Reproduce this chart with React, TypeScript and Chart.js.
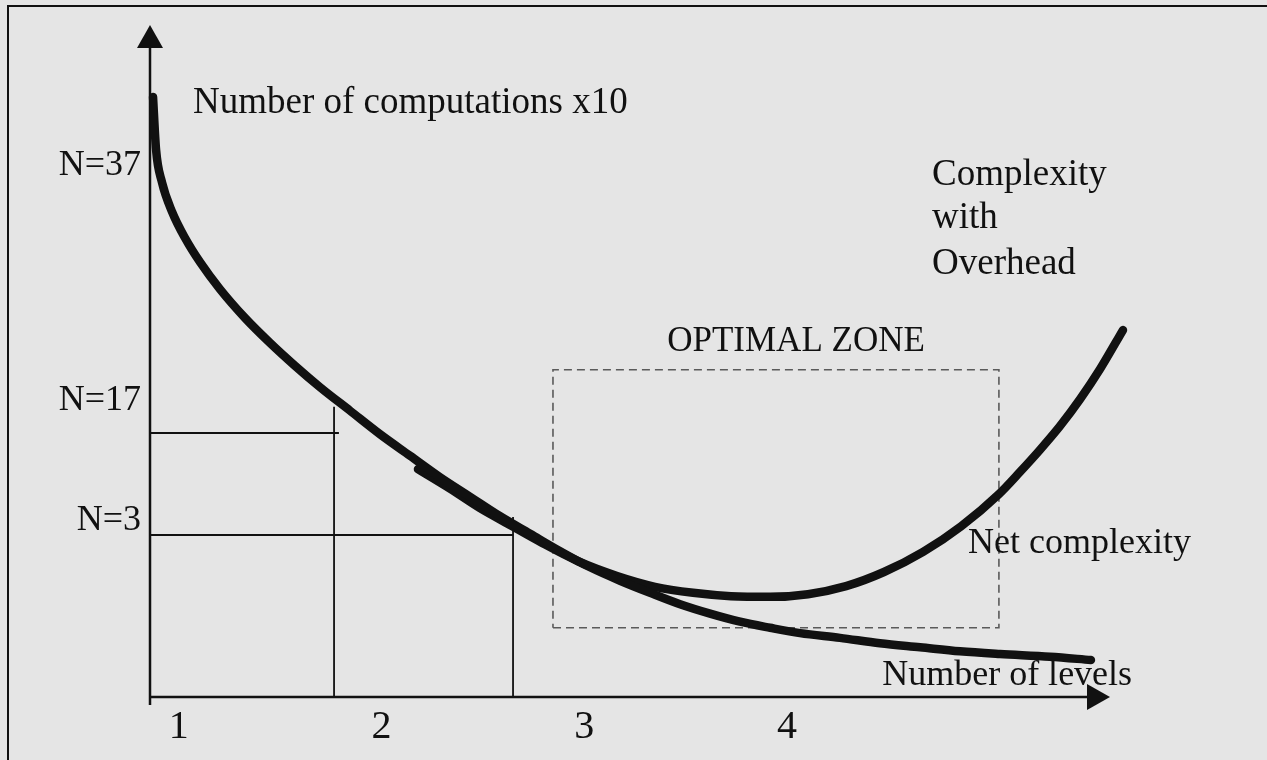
import React, { useEffect, useRef } from "react";
import { Chart, registerables } from "chart.js";

Chart.register(...registerables);

// "Number of levels" curve (lower, thick)
const LEVELS_X = [0.873, 0.888, 0.917, 0.967, 1.031, 1.105, 1.203, 1.327, 1.45, 1.573, 1.697, 1.845, 1.993, 2.141, 2.289, 2.437, 2.585, 2.733, 2.881, 3.029, 3.177, 3.325, 3.473, 3.621, 3.769, 3.917, 4.065, 4.262, 4.459, 4.657, 4.854, 5.051, 5.298, 5.5];
const LEVELS_Y = [89.3, 81.4, 76.6, 72.2, 68.3, 64.7, 60.7, 56.4, 52.7, 49.3, 46.1, 42.6, 39.1, 35.9, 32.7, 29.8, 26.9, 24.3, 21.7, 19.3, 17.3, 15.5, 13.8, 12.4, 11.2, 10.3, 9.5, 8.8, 8.0, 7.4, 6.8, 6.4, 6.0, 5.5];

// "Net complexity" / complexity with overhead curve
const NET_X = [2.18, 2.338, 2.486, 2.634, 2.782, 2.97, 3.162, 3.349, 3.537, 3.724, 3.917, 4.104, 4.292, 4.479, 4.672, 4.859, 5.046, 5.15, 5.249, 5.347, 5.446, 5.545, 5.658];
const NET_Y = [33.9, 31.0, 28.1, 25.6, 23.1, 20.2, 18.0, 16.4, 15.5, 15.0, 14.9, 15.3, 16.5, 18.6, 21.6, 25.4, 30.2, 33.5, 36.8, 40.3, 44.3, 48.8, 54.6];

// guide lines (N=17 and N=3)
const GUIDE_H_Y = [39.3, 24.1];
const GUIDE_H_END_X = [1.79, 2.649];
const GUIDE_V_X = [1.766, 2.649];
const GUIDE_V_TOP_Y = [43.2, 26.8];

// optimal zone box
const ZONE_X = [2.846, 5.046];
const ZONE_Y = [10.3, 48.7];

// tick labels
const X_TICKS = [1, 2, 3, 4];
const X_TICK_LABELS = ["1", "2", "3", "4"];
const Y_MARK_LABELS = ["N=37", "N=17", "N=3"];
const Y_MARK_VALUES = [77.7, 42.7, 24.9];

const X_MIN = 0.858;
const X_MAX = 5.742;
const Y_MIN = 0;
const Y_MAX = 100;
const X_AXIS_END = 5.594;

const BG = "#e5e5e5";
const INK = "#111111";
const SERIF = '"Liberation Serif", "Times New Roman", serif';

function pts(xs: number[], ys: number[]) {
  return xs.map((x, i) => ({ x, y: ys[i] }));
}

const decor = {
  id: "decor",
  beforeDraw(chart: any) {
    const ctx = chart.ctx;
    ctx.save();
    ctx.fillStyle = BG;
    ctx.fillRect(0, 0, chart.width, chart.height);
    ctx.strokeStyle = INK;
    ctx.lineWidth = 2;
    ctx.strokeRect(8, 6, chart.width + 40, chart.height + 40);
    ctx.restore();
  },
  beforeDatasetsDraw(chart: any) {
    const ctx = chart.ctx;
    const xs = chart.scales.x;
    const ys = chart.scales.y;
    const x0 = xs.getPixelForValue(X_MIN);
    const y0 = ys.getPixelForValue(0);
    const yTop = ys.getPixelForValue(Y_MAX);
    const xEnd = xs.getPixelForValue(X_AXIS_END);
    ctx.save();
    ctx.strokeStyle = INK;
    ctx.fillStyle = INK;
    ctx.lineWidth = 2.5;
    // y axis
    ctx.beginPath();
    ctx.moveTo(x0, y0 + 8);
    ctx.lineTo(x0, yTop + 20);
    ctx.stroke();
    ctx.beginPath();
    ctx.moveTo(x0, yTop);
    ctx.lineTo(x0 - 13, yTop + 23);
    ctx.lineTo(x0 + 13, yTop + 23);
    ctx.closePath();
    ctx.fill();
    // x axis
    ctx.beginPath();
    ctx.moveTo(x0, y0);
    ctx.lineTo(xEnd - 20, y0);
    ctx.stroke();
    ctx.beginPath();
    ctx.moveTo(xEnd, y0);
    ctx.lineTo(xEnd - 23, y0 - 13);
    ctx.lineTo(xEnd - 23, y0 + 13);
    ctx.closePath();
    ctx.fill();
    ctx.restore();
  },
  afterDatasetsDraw(chart: any) {
    const ctx = chart.ctx;
    const xs = chart.scales.x;
    const ys = chart.scales.y;
    const px = (v: number) => xs.getPixelForValue(v);
    const py = (v: number) => ys.getPixelForValue(v);
    const text = (s: string, x: number, y: number, size: number, align: CanvasTextAlign) => {
      ctx.font = `${size}px ${SERIF}`;
      ctx.textAlign = align;
      ctx.textBaseline = "alphabetic";
      ctx.fillText(s, x, y);
    };
    ctx.save();
    ctx.fillStyle = INK;
    // x tick labels
    X_TICKS.forEach((v, i) => text(X_TICK_LABELS[i], px(v), 738, 40, "center"));
    // y marks
    Y_MARK_LABELS.forEach((s, i) => text(s, px(X_MIN) - 9, py(Y_MARK_VALUES[i]), 36, "right"));
    // annotations
    text("Number of computations x10", px(1.07), py(86.9), 37, "left");
    text("Complexity", px(4.716), py(76.2), 37, "left");
    text("with", px(4.716), py(69.8), 37, "left");
    text("Overhead", px(4.716), py(62.9), 37, "left");
    text("OPTIMAL ZONE", px(4.045), py(51.5), 35, "center");
    text("Net complexity", px(4.894), py(21.4), 36, "left");
    text("Number of levels", px(5.703), py(1.8), 36, "right");
    ctx.restore();
  },
};

export default function App() {
  const ref = useRef<HTMLCanvasElement | null>(null);
  useEffect(() => {
    document.body.style.margin = "0";
    document.body.style.background = BG;
    const canvas = ref.current;
    if (!canvas) return;
    const guideStyle = {
      borderColor: INK,
      borderWidth: 2,
      pointRadius: 0,
      fill: false,
      tension: 0,
      order: 2,
      clip: false as any,
    };
    const datasets: any[] = [
      {
        label: "Number of levels",
        data: pts(LEVELS_X, LEVELS_Y),
        borderColor: INK,
        borderWidth: 8.5,
        pointRadius: 0,
        cubicInterpolationMode: "monotone",
        borderCapStyle: "round",
        borderJoinStyle: "round",
        order: 0,
        clip: false,
      },
      {
        label: "Net complexity",
        data: pts(NET_X, NET_Y),
        borderColor: INK,
        borderWidth: 8.5,
        pointRadius: 0,
        cubicInterpolationMode: "monotone",
        borderCapStyle: "round",
        borderJoinStyle: "round",
        order: 0,
        clip: false,
      },
      {
        ...guideStyle,
        label: "N=17 h",
        data: [
          { x: X_MIN, y: GUIDE_H_Y[0] },
          { x: GUIDE_H_END_X[0], y: GUIDE_H_Y[0] },
        ],
      },
      {
        ...guideStyle,
        label: "N=17 v",
        borderWidth: 1.8,
        data: [
          { x: GUIDE_V_X[0], y: GUIDE_V_TOP_Y[0] },
          { x: GUIDE_V_X[0], y: Y_MIN },
        ],
      },
      {
        ...guideStyle,
        label: "N=3 h",
        data: [
          { x: X_MIN, y: GUIDE_H_Y[1] },
          { x: GUIDE_H_END_X[1], y: GUIDE_H_Y[1] },
        ],
      },
      {
        ...guideStyle,
        label: "N=3 v",
        borderWidth: 1.8,
        data: [
          { x: GUIDE_V_X[1], y: GUIDE_V_TOP_Y[1] },
          { x: GUIDE_V_X[1], y: Y_MIN },
        ],
      },
      {
        label: "Optimal zone",
        data: [
          { x: ZONE_X[0], y: ZONE_Y[0] },
          { x: ZONE_X[1], y: ZONE_Y[0] },
          { x: ZONE_X[1], y: ZONE_Y[1] },
          { x: ZONE_X[0], y: ZONE_Y[1] },
          { x: ZONE_X[0], y: ZONE_Y[0] },
        ],
        borderColor: "#5a5a5a",
        borderWidth: 1.6,
        borderDash: [8, 5],
        pointRadius: 0,
        tension: 0,
        order: 3,
        clip: false,
      },
    ];
    const chart = new Chart(canvas, {
      type: "line",
      data: { datasets },
      options: {
        responsive: false,
        animation: false,
        layout: { padding: { left: 150, right: 127, top: 25, bottom: 63 } },
        plugins: { legend: { display: false }, tooltip: { enabled: false } },
        scales: {
          x: { type: "linear", min: X_MIN, max: X_MAX, display: false },
          y: { type: "linear", min: Y_MIN, max: Y_MAX, display: false },
        },
      },
      plugins: [decor],
    });
    return () => chart.destroy();
  }, []);
  return (
    <div style={{ position: "fixed", left: 0, top: 0, width: 1267, height: 760, background: BG }}>
      <canvas ref={ref} width={1267} height={760} style={{ display: "block" }} />
    </div>
  );
}
